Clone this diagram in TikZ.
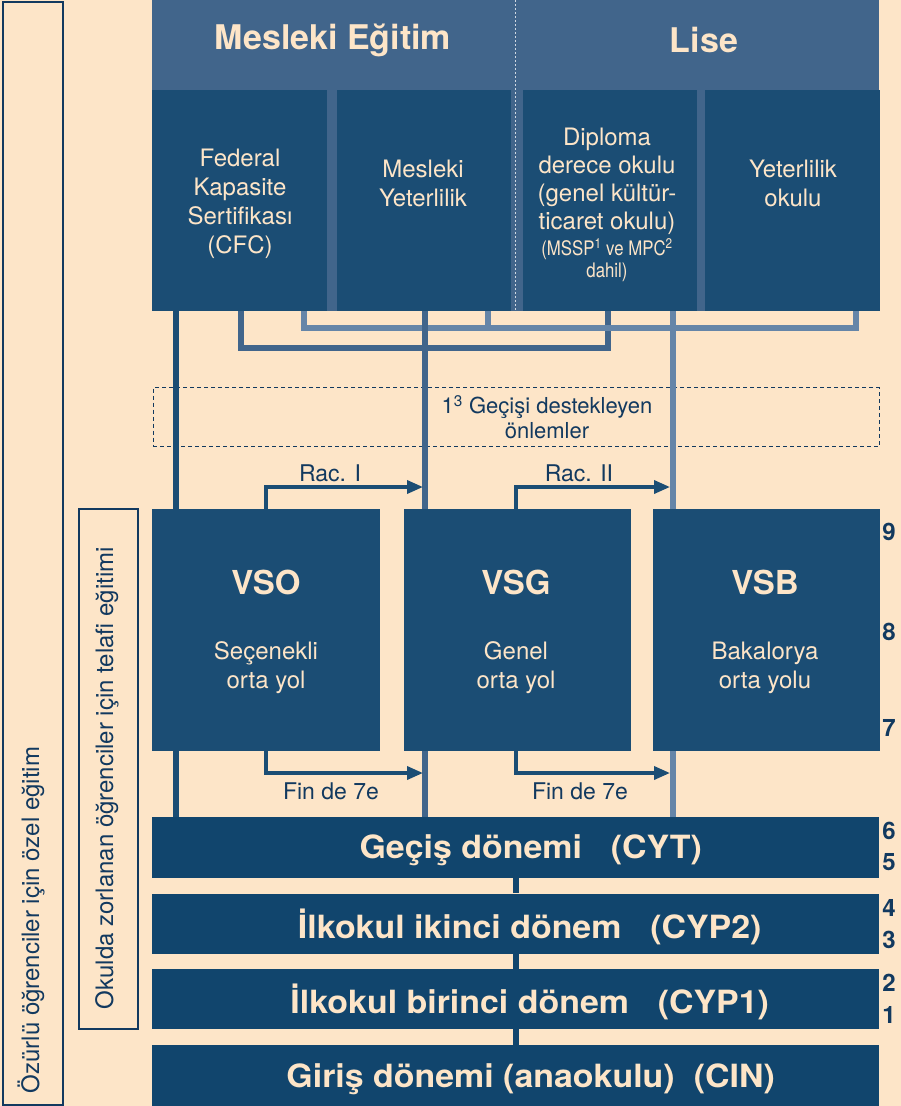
\documentclass[tikz,border=0pt]{standalone}
\usepackage{fontspec}
\setmainfont{TeX Gyre Heros}
\newfontfamily\narrowfont[FakeStretch=0.84]{TeX Gyre Heros}
\newfontfamily\widefont[FakeStretch=1.06]{TeX Gyre Heros}
\usetikzlibrary{positioning, arrows.meta}

\definecolor{peach}{HTML}{FDE5C8}
\definecolor{headblue}{HTML}{41658B}
\definecolor{boxblue}{HTML}{1B4D74}
\definecolor{barblue}{HTML}{11456D}
\definecolor{paleblue}{HTML}{6585A8}
\definecolor{ink}{HTML}{12395F}

\begin{document}
\begin{tikzpicture}[x=1pt, y=-1pt, >={Triangle[length=16pt, width=13pt]}, node distance=9pt]
    \tikzstyle{topbox} = [fill=boxblue, minimum height=221pt, anchor=north west, inner sep=0pt]
    \tikzstyle{midbox} = [fill=boxblue, minimum width=227pt, minimum height=242pt, anchor=north west, inner sep=0pt]
    \tikzstyle{bar} = [fill=barblue, minimum width=727pt, anchor=north west, inner sep=0pt]
    \tikzstyle{bartext} = [text=peach, yshift=-3pt, font=\widefont\bfseries\fontsize{32}{36}\selectfont]
    \tikzstyle{boxtext} = [text=peach, align=center, font=\fontsize{24}{29}\selectfont]
    \tikzstyle{title} = [text=peach, font=\bfseries\fontsize{33}{36}\selectfont]
    \tikzstyle{flowlabel} = [text=ink, font=\fontsize{23}{26}\selectfont]
    \tikzstyle{yearnum} = [text=ink, font=\bfseries\fontsize{24}{26}\selectfont]
    \tikzstyle{sidebox} = [draw=ink, line width=2pt, anchor=north west, inner sep=0pt]
    \tikzstyle{darkline} = [boxblue, line width=5.5pt]
    \tikzstyle{midline} = [headblue, line width=5.5pt]
    \tikzstyle{paleline} = [paleblue, line width=5.5pt]
    \tikzstyle{jump} = [boxblue, line width=3.5pt]
    \tikzstyle{barlink} = [barblue, line width=6pt]

    \useasboundingbox (0,0) rectangle (901,1106);
    \fill[peach] (0,0) rectangle (901,1106);

    % header
    \node[fill=headblue, minimum width=727pt, minimum height=311pt, anchor=north west, inner sep=0pt] (head) at (152,0) {};
    \draw[white!75!headblue, line width=1pt, dash pattern=on 2pt off 2pt] (head.north -| 515,0) -- (head.south -| 515,0);
    \node[title, font=\bfseries\fontsize{34}{36}\selectfont] (voc) at (333,40) {Mesleki Eğitim};
    \node[title, font=\bfseries\fontsize{34}{36}\selectfont] (lise) at (704,40) {Lise};

    % upper row
    \node[topbox, minimum width=175pt] (cfc) at (152,90) {};
    \node[topbox, minimum width=174pt, right=9pt of cfc] (mesyet) {};
    \node[topbox, minimum width=174pt, right=12pt of mesyet] (diploma) {};
    \node[topbox, minimum width=175pt, right=8pt of diploma] (yeter) {};

    \node[boxtext] at (240,204) {Federal\\Kapasite\\Sertifikası\\(CFC)};
    \node[boxtext] at (423,183) {Mesleki\\Yeterlilik};
    \node[boxtext, font=\fontsize{24}{28}\selectfont] (diptext) at (607,181) {Diploma\\derece okulu\\(genel kültür-\\ticaret okulu)};
    \node[boxtext, font=\narrowfont\fontsize{20}{22}\selectfont, below=-3pt of diptext] {(MSSP\textsuperscript{1} ve MPC\textsuperscript{2}\\dahil)};
    \node[boxtext] at (793,183) {Yeterlilik\\okulu};

    % support measures
    \node[draw=ink, line width=1pt, dash pattern=on 4pt off 3pt, minimum width=726pt, minimum height=59pt, anchor=north west] (support) at (152.5,387) {};
    \node[align=center, text=ink, font=\fontsize{22}{25}\selectfont] at ([xshift=31pt]support.center) {1\textsuperscript{3} Geçişi destekleyen\\önlemler};

    % middle row
    \node[midbox, minimum width=228pt] (vso) at (152,509) {};
    \node[midbox, right=23pt of vso] (vsg) {};
    \node[midbox, right=22pt of vsg] (vsb) {};

    \node[title] at (266,582) {VSO};
    \node[title] at (516,582) {VSG};
    \node[title] at (765,582) {VSB};
    \node[boxtext] at (266,668) {Seçenekli\\orta yol};
    \node[boxtext] at (516,668) {Genel\\orta yol};
    \node[boxtext] at (765,668) {Bakalorya\\orta yolu};

    % bottom bars
    \node[bar, minimum height=61pt] (cyt) at (152,817) {};
    \node[bar, minimum height=60pt, below=15pt of cyt] (cyp2) {};
    \node[bar, minimum height=60pt, below=15pt of cyp2] (cyp1) {};
    \node[bar, minimum height=62pt, below=16pt of cyp1] (cin) {};
    \node[bartext] at ([xshift=15pt]cyt.center) {Geçiş dönemi\hspace{0.9em}(CYT)};
    \node[bartext] at ([xshift=14pt]cyp2.center) {İlkokul ikinci dönem\hspace{0.9em}(CYP2)};
    \node[bartext] at ([xshift=14pt]cyp1.center) {İlkokul birinci dönem\hspace{0.9em}(CYP1)};
    \node[bartext] at ([xshift=15pt]cin.center) {Giriş dönemi (anaokulu)\hspace{0.6em}(CIN)};

    % line positions
    \coordinate (xcfc) at (176,0);
    \coordinate (xvoc) at (425,0);
    \coordinate (xlise) at (673,0);
    \coordinate (lowl) at (241,348);
    \coordinate (lowr) at (608,348);
    \coordinate (upl) at (304,328);
    \coordinate (upm) at (488,328);
    \coordinate (upr) at (856,328);
    \coordinate (spine) at (516,0);

    \draw[midline] (cfc.south -| lowl) -- (lowl) -- (lowr) -- (diploma.south -| lowr);
    \draw[paleline] (cfc.south -| upl) -- (upl) -- (upr) -- (yeter.south -| upr);
    \draw[paleline] (mesyet.south -| upm) -- (upm);

    \draw[darkline] (cfc.south -| xcfc) -- (vso.north -| xcfc);
    \draw[darkline] (vso.south -| xcfc) -- (cyt.north -| xcfc);
    \draw[midline] (mesyet.south -| xvoc) -- (vsg.north -| xvoc);
    \draw[midline] (vsg.south -| xvoc) -- (cyt.north -| xvoc);
    \draw[paleline] (diploma.south -| xlise) -- (vsb.north -| xlise);
    \draw[paleline] (vsb.south -| xlise) -- (cyt.north -| xlise);

    % transfers
    \coordinate (racIend) at (423,487);
    \coordinate (racIIend) at (670,487);
    \coordinate (finIend) at (423,773);
    \coordinate (finIIend) at (670,773);
    \draw[jump, ->] (vso.north -| 266,0) |- (racIend);
    \draw[jump, ->] (vsg.north -| spine) |- (racIIend);
    \draw[jump, ->] (vso.south -| 266,0) |- (finIend);
    \draw[jump, ->] (vsg.south -| spine) |- (finIIend);
    \node[flowlabel] at (330,473) {Rac. I};
    \node[flowlabel] at (579,473) {Rac. II};
    \node[flowlabel] at (331,791) {Fin de 7e};
    \node[flowlabel] at (580,791) {Fin de 7e};

    \draw[barlink] (cyt.south -| spine) -- (cyp2.north -| spine);
    \draw[barlink] (cyp2.south -| spine) -- (cyp1.north -| spine);
    \draw[barlink] (cyp1.south -| spine) -- (cin.north -| spine);

    % school years
    \foreach \n/\y in {9/532, 8/632, 7/728, 6/831, 5/862, 4/908, 3/940, 2/983, 1/1015}
        \node[yearnum] (year\n) at (889,\y) {\n};

    % side programmes
    \node[sidebox, minimum width=60pt, minimum height=1103pt] (special) at (2,1) {};
    \node[rotate=90, text=ink, font=\fontsize{24}{28}\selectfont] at (31,920) {Özürlü öğrenciler için özel eğitim};
    \node[sidebox, minimum width=59pt, minimum height=520pt] (remedial) at (78,508) {};
    \node[rotate=90, text=ink, font=\fontsize{24}{28}\selectfont] at (107,778) {Okulda zorlanan öğrenciler için telafi eğitimi};
\end{tikzpicture}
\end{document}
